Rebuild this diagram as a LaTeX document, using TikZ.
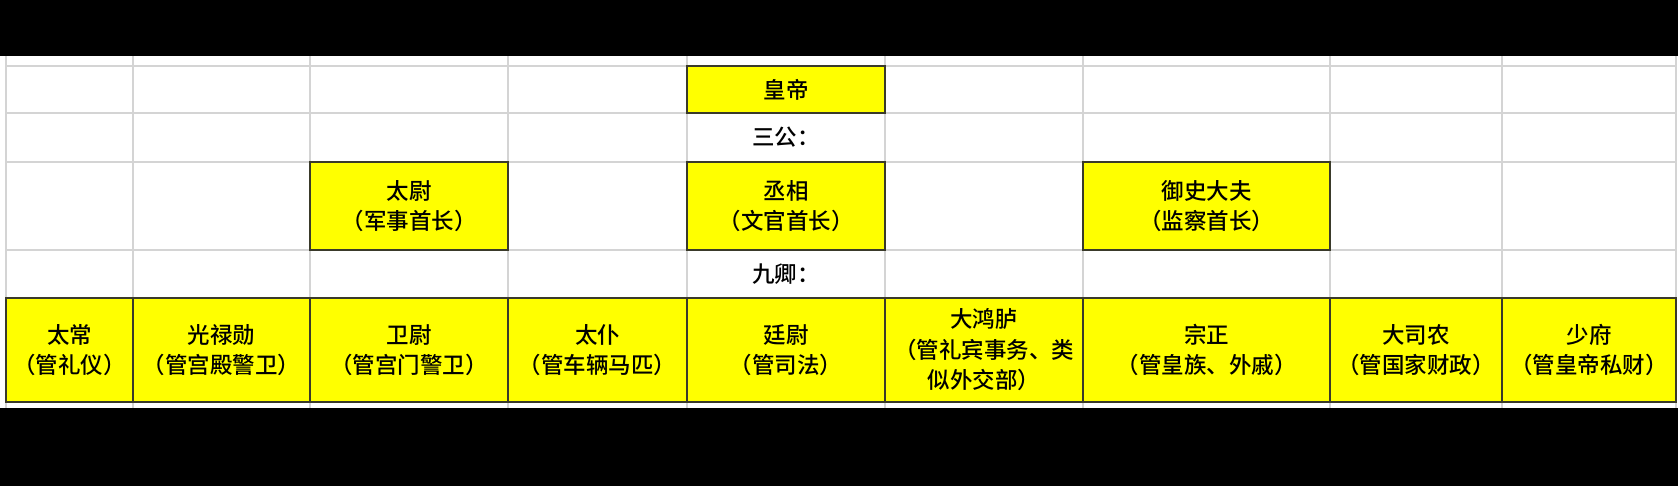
\documentclass[tikz,border=0pt]{standalone}
\usepackage{fontspec}
\newfontfamily\cjkfont{Noto Sans CJK SC}[UprightFont=* Medium,BoldFont=* Bold]
\definecolor{cellyellow}{HTML}{FFFF00}
\definecolor{boxline}{HTML}{3A3A2A}
\definecolor{gridgray}{HTML}{D4D4D4}
\begin{document}
\begin{tikzpicture}[x=1pt,y=-1pt,
  grid/.style={draw=gridgray,line width=1.2pt},
  cell/.style={draw=boxline,line width=1.3pt,fill=cellyellow,inner sep=0pt,align=center,
    font=\cjkfont\fontsize{22.5}{30.5}\selectfont},
  lbl/.style={inner sep=0pt,align=center,font=\cjkfont\fontsize{22.5}{30.5}\selectfont}]
\useasboundingbox (0,0) rectangle (1678,486);
\fill[white] (0,0) rectangle (1678,486);
% grid lines
\foreach \x in {6,133,310,508,687,885,1083,1330,1502,1676}
  \draw[grid] (\x,56) -- (\x,408);
\foreach \y in {66,113,162,250,298,402}
  \draw[grid] (6,\y) -- (1676,\y);
% black bands
\fill[black] (0,0) rectangle (1678,56);
\fill[black] (0,408) rectangle (1678,486);
% emperor
\node[cell,minimum width=198pt,minimum height=47pt] (hd) at (786,89.5) {皇帝};
\node[lbl] (sg) at (786,137.5) {三公：};
% three excellencies
\node[cell,minimum width=198pt,minimum height=88pt] (tw) at (409,206) {太尉\\（军事首长）};
\node[cell,minimum width=198pt,minimum height=88pt] (cx) at (786,206) {丞相\\（文官首长）};
\node[cell,minimum width=247pt,minimum height=88pt] (ys) at (1206.5,206) {御史大夫\\（监察首长）};
\node[lbl] (jq) at (786,274) {九卿：};
% nine ministers
\node[cell,minimum width=127pt,minimum height=104pt] (m1) at (69.5,350) {太常\\（管礼仪）};
\node[cell,minimum width=177pt,minimum height=104pt] (m2) at (221.5,350) {光禄勋\\（管宫殿警卫）};
\node[cell,minimum width=198pt,minimum height=104pt] (m3) at (409,350) {卫尉\\（管宫门警卫）};
\node[cell,minimum width=179pt,minimum height=104pt] (m4) at (597.5,350) {太仆\\（管车辆马匹）};
\node[cell,minimum width=198pt,minimum height=104pt] (m5) at (786,350) {廷尉\\（管司法）};
\node[cell,minimum width=198pt,minimum height=104pt] (m6) at (984,350) {大鸿胪\\（管礼宾事务、类\\似外交部）};
\node[cell,minimum width=247pt,minimum height=104pt] (m7) at (1206.5,350) {宗正\\（管皇族、外戚）};
\node[cell,minimum width=172pt,minimum height=104pt] (m8) at (1416,350) {大司农\\（管国家财政）};
\node[cell,minimum width=174pt,minimum height=104pt] (m9) at (1589,350) {少府\\（管皇帝私财）};
\end{tikzpicture}
\end{document}
